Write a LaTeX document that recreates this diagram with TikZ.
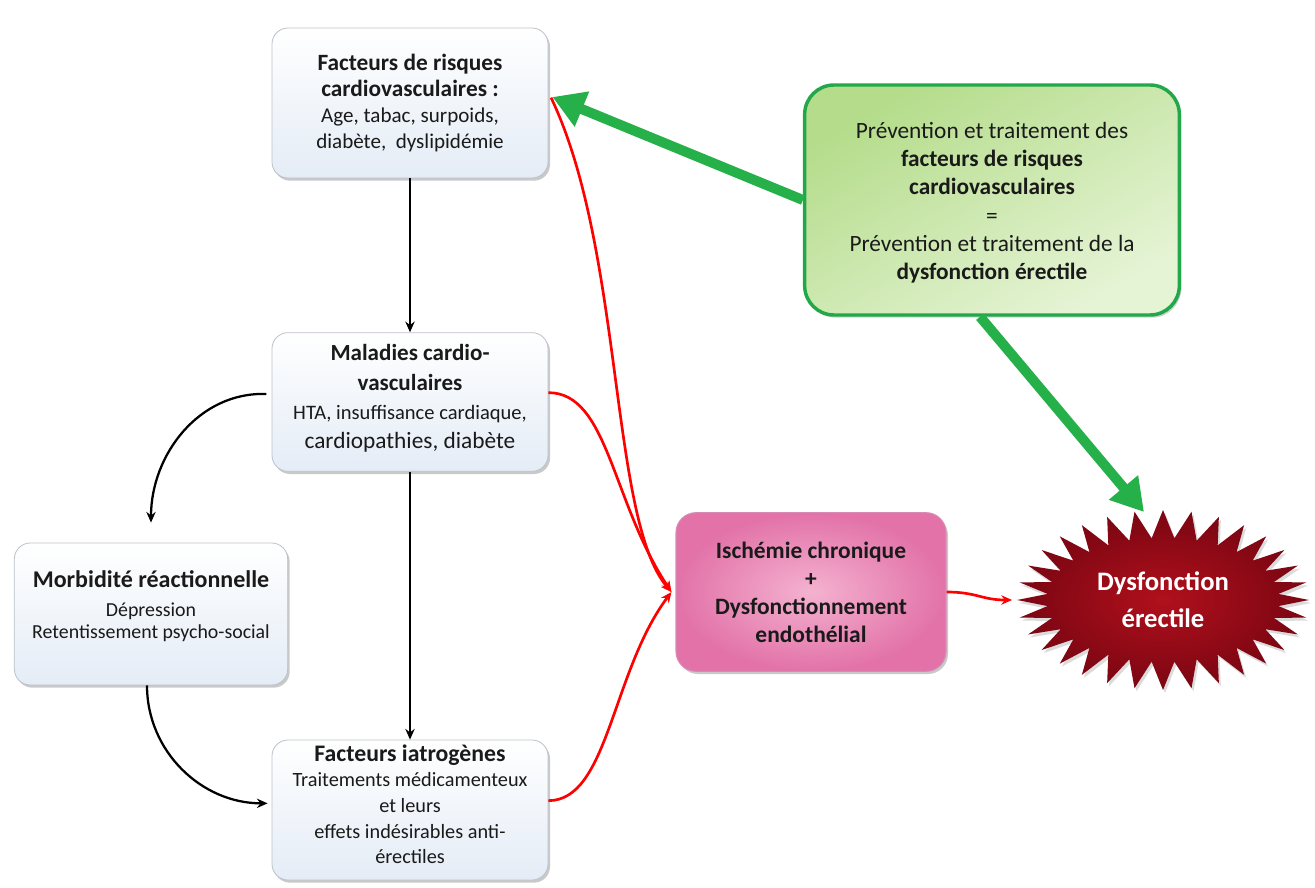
\documentclass[tikz,border=0pt]{standalone}
\usepackage{fontspec}
\setmainfont{Carlito}
\usetikzlibrary{arrows.meta,shadows,calc}
\definecolor{boxblue}{HTML}{E4ECF6}
\definecolor{boxgray}{HTML}{BCC2CA}
\definecolor{textc}{HTML}{1A1A1A}
\definecolor{arrgreen}{HTML}{25B04A}
\definecolor{gborder}{HTML}{22A84A}
\definecolor{gdark}{HTML}{B4DC8A}
\definecolor{glight}{HTML}{E6F4D6}
\definecolor{pinkin}{HTML}{F4B2D0}
\definecolor{pinkout}{HTML}{E272A8}
\definecolor{pinkborder}{HTML}{D98AB4}
\definecolor{starin}{HTML}{B0101C}
\definecolor{starout}{HTML}{7A0612}
\newcommand\ttl[2][17.5]{{\fontsize{#1}{20}\selectfont\bfseries #2}}
\tikzset{
  bluebox/.style={draw=boxgray, line width=0.6pt, rounded corners=12pt,
    top color=white, bottom color=boxblue, align=center, text=textc,
    font=\fontsize{15.8}{19.5}\selectfont,
    drop shadow={shadow xshift=1.5pt, shadow yshift=-2pt, opacity=0.35, fill=black!60}},
  greenbox/.style={draw=gborder, line width=2.6pt, rounded corners=22pt,
    shading=axis, top color=gdark, bottom color=glight, shading angle=30,
    align=center, text=textc, font=\fontsize{17.5}{21.2}\selectfont,
    drop shadow={shadow xshift=1.5pt, shadow yshift=-2pt, opacity=0.3, fill=black!60}},
  pinkbox/.style={draw=pinkborder, line width=0.8pt, rounded corners=15pt,
    inner color=pinkin, outer color=pinkout,
    align=center, text=textc, font=\fontsize{17.6}{21}\selectfont\bfseries,
    drop shadow={shadow xshift=1.5pt, shadow yshift=-2pt, opacity=0.35, fill=black!60}},
  blackarr/.style={line width=1.7pt, draw=black, -{Stealth[length=8pt,width=7pt]}},
  redarr/.style={line width=2pt, draw=red, -{Stealth[length=8pt,width=7pt]}},
  greenarr/.style={line width=7.5pt, draw=arrgreen, -{Triangle[length=24pt,width=27pt]}},
}
\begin{document}
\begin{tikzpicture}[x=0.75pt,y=0.75pt]
\useasboundingbox (0,0) rectangle (1315,-888);
\fill[white] (0,0) rectangle (1315,-888);

% boxes
\node[bluebox, minimum width=207pt, minimum height=112.5pt] (top) at (410,-103)
  {\ttl{Facteurs de risques}\\\ttl{cardiovasculaires :}\\Age, tabac, surpoids,\\diabète,~ dyslipidémie};
\node[bluebox, minimum width=207pt, minimum height=104pt, font=\fontsize{15.4}{22}\selectfont] (mal) at (410,-402)
  {\ttl[17.3]{Maladies cardio-}\\\ttl[17.3]{vasculaires}\\HTA, insuffisance cardiaque,\\{\fontsize{17.5}{22}\selectfont cardiopathies, diabète}\\[-14pt]};
\node[bluebox, minimum width=205pt, minimum height=106.5pt, font=\fontsize{14.9}{16.5}\selectfont] (morb) at (151,-614)
  {\ttl[18]{Morbidité réactionnelle}\\[5pt]Dépression\\Retentissement psycho-social\\[-2pt]};
\node[bluebox, minimum width=207pt, minimum height=105pt, font=\fontsize{15.2}{19.2}\selectfont] (iat) at (410,-810)
  {\ttl[17.8]{Facteurs iatrogènes}\\Traitements médicamenteux\\et leurs\\effets indésirables anti-\\érectiles\\[-10.5pt]};
\node[greenbox, minimum width=281pt, minimum height=172.5pt] (green) at (992,-200)
  {\\[-5pt]Prévention et traitement des\\\textbf{facteurs de risques}\\\textbf{cardiovasculaires}\\=\\Prévention et traitement de la\\\textbf{dysfonction érectile}};
\node[pinkbox, minimum width=202.5pt, minimum height=119pt] (pink) at (811,-592)
  {Ischémie chronique\\+\\Dysfonctionnement\\endothélial};

% starburst
\begin{scope}[shift={(1163,-600)}]
  \fill[black!40, opacity=0.35, shift={(2,-3)}] (0:146 and 90)
    \foreach \i in {0,...,31} { -- ({\i*11.25}:146 and 90) -- ({\i*11.25+5.625}:116 and 62) } -- cycle;
  \shade[inner color=starin, outer color=starout] (0:146 and 90)
    \foreach \i in {0,...,31} { -- ({\i*11.25}:146 and 90) -- ({\i*11.25+5.625}:116 and 62) } -- cycle;
\end{scope}
\node[align=center, text=white, font=\fontsize{20}{28}\selectfont\bfseries] (star) at (1163,-600) {Dysfonction\\érectile};
\coordinate (starW) at (1012,-600);
\coordinate (starN) at (1144,-512);

% black connectors
\draw[blackarr] (top.south) -- (mal.north);
\draw[blackarr] (mal.south) -- (iat.north);
\draw[blackarr] ([xshift=-4pt,yshift=6pt]mal.west) to[out=178,in=90] ([yshift=15pt]morb.north);
\draw[blackarr] ([xshift=-3pt]morb.south) to[out=-90,in=180] ([xshift=-3pt,yshift=5pt]iat.west);

% red connectors
\draw[redarr] ([yshift=7pt]mal.east) .. controls +(60,0) and +(-60,90) .. ([xshift=-3pt]pink.west);
\draw[redarr] ([yshift=7pt]iat.east) .. controls +(60,0) and +(-60,-80) .. ([xshift=-3pt]pink.west);
\draw[redarr] ([xshift=2pt,yshift=4pt]top.east) .. controls +(73,-153) and +(-62,72) .. ([xshift=-3pt]pink.west);
\draw[redarr] (pink.east) .. controls +(30,0) and +(-30,0) .. (starW);

% green arrows
\draw[greenarr] (green.west) -- ([xshift=3pt,yshift=4.5pt]top.east);
\draw[greenarr] ([xshift=-9pt]green.south) -- (starN);
\end{tikzpicture}
\end{document}
